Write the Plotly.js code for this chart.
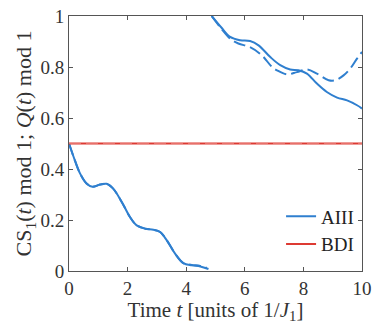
<!DOCTYPE html>
<html><head><meta charset="utf-8">
<script src="https://cdn.plot.ly/plotly-3.0.1.min.js"></script>
<style>html,body{margin:0;padding:0;background:#fff}#c{width:372px;height:324px}</style>
</head><body><div id="c"></div>
<script>
// AIII, solid curve (lower branch, before wrapping mod 1)
const aiiiSolidLowT = [0, 0.2, 0.38, 0.6, 0.8, 1.06, 1.28, 1.5, 1.8, 2.08, 2.31, 2.6, 2.88, 3.11, 3.34, 3.62, 3.9, 4.19, 4.48, 4.76];
const aiiiSolidLowY = [0.5, 0.434, 0.382, 0.343, 0.330, 0.339, 0.342, 0.324, 0.271, 0.212, 0.179, 0.166, 0.162, 0.153, 0.120, 0.068, 0.031, 0.022, 0.018, 0.008];
// AIII, solid curve (upper branch, after wrapping)
const aiiiSolidHighT = [4.87, 5.2, 5.5, 5.84, 6.18, 6.47, 6.87, 7.21, 7.55, 7.83, 8.12, 8.46, 8.8, 9.15, 9.49, 9.83, 10];
const aiiiSolidHighY = [1.0, 0.955, 0.918, 0.905, 0.902, 0.885, 0.839, 0.807, 0.790, 0.787, 0.774, 0.735, 0.702, 0.680, 0.669, 0.650, 0.637];
// AIII, dashed curve (lower branch)
const aiiiDashLowT = [0, 0.2, 0.38, 0.6, 0.8, 1.06, 1.28, 1.5, 1.8, 2.08, 2.31, 2.6, 2.88, 3.11, 3.34, 3.62, 3.9, 4.19, 4.48, 4.7];
const aiiiDashLowY = [0.5, 0.434, 0.382, 0.343, 0.330, 0.339, 0.342, 0.324, 0.271, 0.212, 0.179, 0.166, 0.162, 0.153, 0.120, 0.068, 0.031, 0.024, 0.020, 0.012];
// AIII, dashed curve (upper branch)
const aiiiDashHighT = [4.87, 5.2, 5.5, 5.78, 6.18, 6.58, 6.93, 7.1, 7.44, 7.78, 8.12, 8.46, 8.86, 9.09, 9.37, 9.6, 9.83, 10];
const aiiiDashHighY = [1.0, 0.950, 0.911, 0.892, 0.878, 0.846, 0.800, 0.787, 0.771, 0.780, 0.790, 0.774, 0.748, 0.748, 0.767, 0.794, 0.833, 0.859];
// BDI (solid and dashed coincide)
const bdiT = [0, 10];
const bdiSolidY = [0.5, 0.5];
const bdiDashY = [0.5, 0.5];

const xTicks = [0, 2, 4, 6, 8, 10];
const yTicks = [0, 0.2, 0.4, 0.6, 0.8, 1];

const blue = '#2f7fcf';
const red = '#dd3a33';
const font = '"Liberation Serif", "Times New Roman", serif';

const traces = [
  {x: aiiiSolidLowT, y: aiiiSolidLowY, mode: 'lines', name: 'AIII', line: {color: blue, width: 2, shape: 'spline'}, showlegend: true, legendgroup: 'a'},
  {x: aiiiSolidHighT, y: aiiiSolidHighY, mode: 'lines', name: 'AIII', line: {color: blue, width: 2, shape: 'spline'}, showlegend: false, legendgroup: 'a'},
  {x: aiiiDashLowT, y: aiiiDashLowY, mode: 'lines', name: 'AIII dashed', line: {color: blue, width: 2, shape: 'spline', dash: '12px,5px'}, showlegend: false},
  {x: aiiiDashHighT, y: aiiiDashHighY, mode: 'lines', name: 'AIII dashed', line: {color: blue, width: 2, shape: 'spline', dash: '12px,5px'}, showlegend: false},
  {x: bdiT, y: bdiSolidY, mode: 'lines', name: 'BDI', line: {color: red, width: 2}, showlegend: true},
  {x: bdiT, y: bdiDashY, mode: 'lines', name: 'BDI dashed', line: {color: '#e8706a', width: 1.2, dash: '12px,5px'}, showlegend: false}
];

const axisCommon = {
  showline: true, linecolor: '#555', linewidth: 1, mirror: 'ticks',
  ticks: 'inside', ticklen: 4, tickcolor: '#555', showgrid: false, zeroline: false,
  tickfont: {family: font, size: 19, color: '#333'}
};

const layout = {
  width: 372, height: 324,
  margin: {l: 69, r: 10, t: 16, b: 53},
  paper_bgcolor: '#fff', plot_bgcolor: '#fff',
  font: {family: font, color: '#333'},
  xaxis: Object.assign({}, axisCommon, {
    range: [0, 10], tickvals: xTicks, ticktext: xTicks.map(String),
    title: {text: 'Time <i>t</i> [units of 1/<i>J</i><sub>1</sub>]', font: {family: font, size: 21, color: '#333'}, standoff: 6}
  }),
  yaxis: Object.assign({}, axisCommon, {
    range: [0, 1], tickvals: yTicks, ticktext: yTicks.map(String),
    title: {text: 'CS<sub>1</sub>(<i>t</i>) mod 1; <i>Q</i>(<i>t</i>) mod 1', font: {family: font, size: 22, color: '#333'}, standoff: 2}
  }),
  legend: {x: 0.99, y: 0.03, xanchor: 'right', yanchor: 'bottom', bgcolor: 'rgba(0,0,0,0)', font: {family: font, size: 19, color: '#222'}, itemwidth: 30, tracegroupgap: 0}
};

Plotly.newPlot('c', traces, layout, {staticPlot: true, displayModeBar: false});
</script></body></html>
